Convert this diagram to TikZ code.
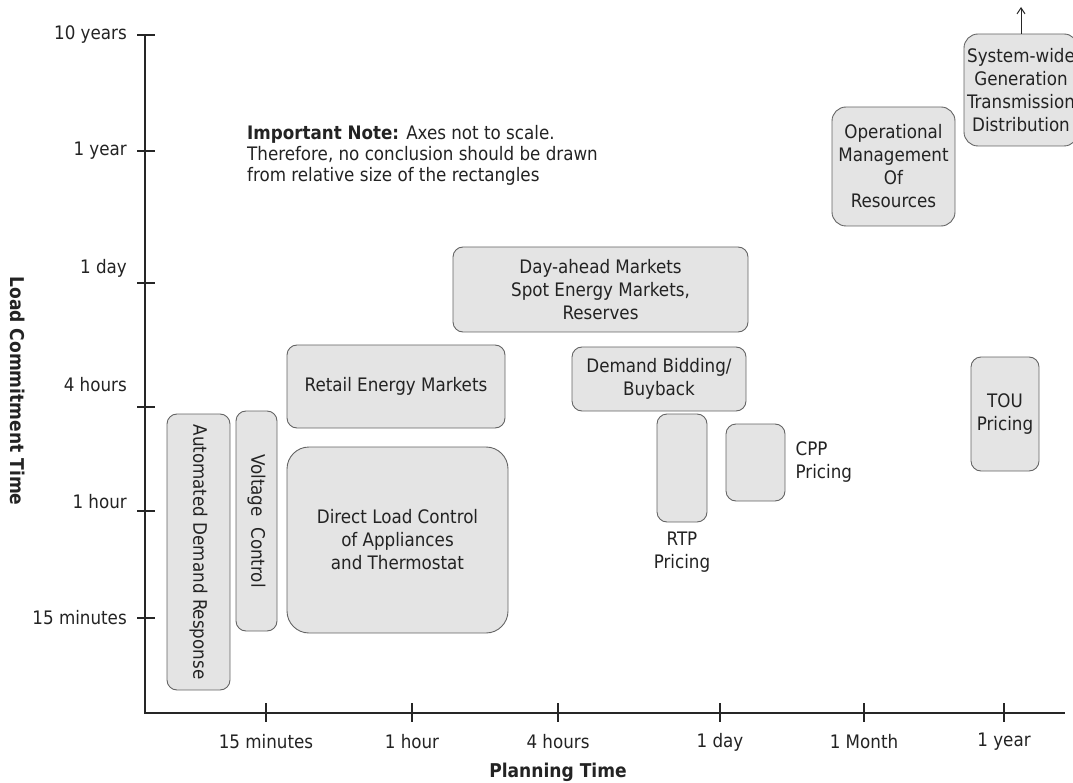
\documentclass[tikz,border=0pt]{standalone}
\usepackage{fontspec}
\setmainfont{DejaVu Sans Condensed}
\usepackage{xcolor}
\usetikzlibrary{arrows.meta,positioning}
\definecolor{boxfill}{RGB}{228,228,228}
\definecolor{boxline}{RGB}{100,100,100}
\definecolor{ink}{RGB}{35,35,35}

\begin{document}
\begin{tikzpicture}[x=1pt,y=-1pt,>={Straight Barb[length=6pt,width=8pt]},
      font=\fontsize{18.6}{23}\selectfont,text=ink,
      blk/.style={draw=boxline,fill=boxfill,line width=0.9pt,rounded corners=10pt,align=center,inner sep=0pt},
      axis/.style={line width=1.4pt,black!85},
      tickmark/.style={line width=2.6pt,black!85},
      lbl/.style={inner sep=0pt,align=center},
      ttl/.style={font=\fontsize{19}{22}\selectfont\bfseries,inner sep=0pt}]
    \useasboundingbox (0,0) rectangle (1073,783);
    \clip (0,0) rectangle (1073,783);
    % axes
    \coordinate (yTop) at (145,35);
    \coordinate (O) at (145,713);
    \coordinate (xEnd) at (1065,713);
    \draw[axis] (yTop) -- (O) -- (xEnd);
    \foreach \n/\y/\ly/\t in {Y1/35/35/10 years,Y2/151/151/1 year,Y3/283/268/1 day,
        Y4/407/385/4 hours,Y5/511/502/1 hour,Y6/618/618/15 minutes} {
      \draw[tickmark] (137,\y) -- (155,\y);
      \node[lbl,anchor=east] (\n) at (127,\ly) {\t};
    }
    \foreach \n/\x/\t in {X1/266/15 minutes,X2/412/1 hour,X3/558/4 hours,
        X4/720/1 day,X5/864/1 Month,X6/1004/1 year} {
      \draw[tickmark] (\x,703) -- (\x,722);
      \node[lbl] (\n) at (\x,742) {\t};
    }
    \node[ttl,rotate=-90] (ytitle) at (18,391) {Load Commitment Time};
    \node[ttl] (xtitle) at (558,772) {Planning Time};
    % note
    \node[lbl,anchor=west,align=left,font=\fontsize{18.6}{21}\selectfont] (note) at (247,155)
      {\textbf{Important Note:} Axes not to scale.\\Therefore, no conclusion should be drawn\\from relative size of the rectangles};
    % short horizon programs
    \node[blk,rotate=-90,minimum width=276,minimum height=63] (adr) at (198.5,552) {Automated Demand Response};
    \node[blk,rotate=-90,minimum width=220,minimum height=41] (vc) at (256.5,521) {Voltage~\ Control};
    \node[blk,rounded corners=22pt,minimum width=221,minimum height=186] (dlc) at (397.5,540)
      {Direct Load Control\\of Appliances\\and Thermostat};
    \node[blk,minimum width=218,minimum height=83] (rem) at (396,386.5) {Retail Energy Markets};
    % markets and pricing
    \node[blk,minimum width=295,minimum height=85] (dam) at (600.5,289.5)
      {Day-ahead Markets\\Spot Energy Markets,\\Reserves};
    \node[blk,minimum width=174,minimum height=64] (dbb) at (659,379) {Demand Bidding/\\Buyback};
    \node[blk,minimum width=50,minimum height=108] (rtp) at (682,468) {};
    \node[lbl,below=9pt of rtp] (rtpl) {RTP\\Pricing};
    \node[blk,minimum width=59,minimum height=77] (cpp) at (755.5,462.5) {};
    \node[lbl,align=left,right=10pt of cpp] (cppl) {CPP\\Pricing};
    \node[blk,minimum width=68,minimum height=114] (tou) at (1005,414) {TOU\\Pricing};
    % long horizon planning
    \node[blk,rounded corners=14pt,minimum width=123,minimum height=119] (omr) at (893.5,166.5)
      {Operational\\Management\\Of\\Resources};
    \node[blk,rounded corners=14pt,minimum width=114,minimum height=112] (sys) at (1021,90)
      {System-wide\\Generation\\Transmission\\Distribution};
    \coordinate (sysTip) at (1021,7);
    \draw[->,line width=1pt,black!85] (sys.north) -- (sysTip);
\end{tikzpicture}
\end{document}
